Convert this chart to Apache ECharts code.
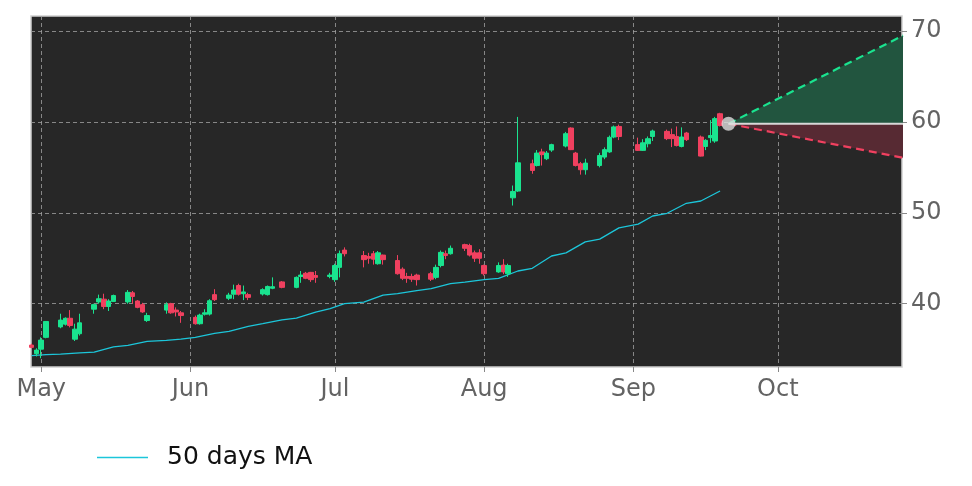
<!DOCTYPE html>
<html>
<head>
<meta charset="utf-8">
<script src="https://cdn.jsdelivr.net/npm/echarts@6/dist/echarts.min.js"></script>
<style>
html,body{margin:0;padding:0;background:#fff;}
#chart{width:972px;height:486px;}
</style>
</head>
<body>
<div id="chart"></div>
<script>
// ---- data ----
const candleDates = [
 '2025-04-29','2025-04-30','2025-05-01','2025-05-02',
 '2025-05-05','2025-05-06','2025-05-07','2025-05-08','2025-05-09',
 '2025-05-12','2025-05-13','2025-05-14','2025-05-15','2025-05-16',
 '2025-05-19','2025-05-20','2025-05-21','2025-05-22','2025-05-23',
 '2025-05-27','2025-05-28','2025-05-29','2025-05-30',
 '2025-06-02','2025-06-03','2025-06-04','2025-06-05','2025-06-06',
 '2025-06-09','2025-06-10','2025-06-11','2025-06-12','2025-06-13',
 '2025-06-16','2025-06-17','2025-06-18','2025-06-20',
 '2025-06-23','2025-06-24','2025-06-25','2025-06-26','2025-06-27',
 '2025-06-30','2025-07-01','2025-07-02','2025-07-03',
 '2025-07-07','2025-07-08','2025-07-09','2025-07-10','2025-07-11',
 '2025-07-14','2025-07-15','2025-07-16','2025-07-17','2025-07-18',
 '2025-07-21','2025-07-22','2025-07-23','2025-07-24','2025-07-25',
 '2025-07-28','2025-07-29','2025-07-30','2025-07-31','2025-08-01',
 '2025-08-04','2025-08-05','2025-08-06','2025-08-07','2025-08-08',
 '2025-08-11','2025-08-12','2025-08-13','2025-08-14','2025-08-15',
 '2025-08-18','2025-08-19','2025-08-20','2025-08-21','2025-08-22',
 '2025-08-25','2025-08-26','2025-08-27','2025-08-28','2025-08-29',
 '2025-09-02','2025-09-03','2025-09-04','2025-09-05',
 '2025-09-08','2025-09-09','2025-09-10','2025-09-11','2025-09-12',
 '2025-09-15','2025-09-16','2025-09-17','2025-09-18','2025-09-19'
];
const opens = [
 35.45,34.5,35.0,36.3,
 37.45,37.75,38.4,36.1,36.7,
 39.4,40.2,40.5,39.7,40.25,
 40.2,41.2,40.3,39.9,38.15,
 39.3,40.0,39.3,39.0,
 38.5,37.8,38.85,38.86,41.0,
 40.6,41.05,42.0,41.1,41.0,
 41.07,41.0,41.7,42.4,
 41.8,43.0,43.35,43.45,43.1,
 43.0,42.65,44.0,45.9,
 45.3,45.2,45.5,44.4,45.35,
 44.75,43.8,43.0,43.0,43.15,
 43.3,42.9,44.2,45.5,45.5,
 46.5,46.4,45.6,45.6,44.2,
 43.5,44.25,43.3,51.65,52.4,
 55.4,55.2,56.7,55.95,56.9,
 57.35,59.33,56.57,55.4,54.74,
 55.2,56.13,56.7,58.34,59.5,
 57.5,56.87,57.6,58.4,
 58.96,58.6,58.4,57.3,58.78,
 58.34,57.3,58.27,57.9,60.9
];
const closes = [
 35.2,34.9,36.0,38.05,
 38.2,38.4,37.6,37.2,37.9,
 39.9,40.55,39.7,40.3,40.9,
 41.25,40.8,39.6,39.1,38.7,
 39.9,39.0,39.1,38.7,
 37.8,38.75,39.0,40.33,40.45,
 40.95,41.5,41.05,41.3,40.7,
 41.55,41.9,41.87,41.8,
 42.9,43.15,42.8,42.65,42.9,
 43.15,44.2,45.5,45.5,
 44.85,45.0,44.9,45.6,44.85,
 43.3,42.8,42.8,42.7,42.65,
 42.7,44.0,45.65,45.3,46.1,
 46.1,45.35,45.0,45.0,43.3,
 44.2,43.5,44.2,52.35,55.5,
 54.66,56.57,56.4,56.57,57.5,
 58.7,56.95,55.2,54.74,55.47,
 56.3,56.95,58.3,59.45,58.4,
 56.87,57.7,58.15,59.0,
 58.16,58.16,57.4,58.34,58.05,
 56.24,57.97,58.5,60.36,59.6
];
const lows = [
 35.1,34.2,34.0,36.2,
 37.3,37.6,37.4,35.9,36.5,
 38.9,40.0,39.4,39.2,40.2,
 40.0,40.0,39.5,39.0,38.0,
 38.9,38.9,38.6,37.9,
 37.7,37.7,38.7,38.7,40.3,
 40.4,40.5,40.9,40.4,40.4,
 40.9,40.9,41.6,41.7,
 41.7,42.3,42.7,42.4,42.3,
 42.8,42.4,42.9,45.2,
 44.0,44.4,44.3,44.3,44.3,
 43.2,42.6,42.3,42.4,42.0,
 42.5,42.7,44.0,44.9,45.4,
 45.8,45.2,44.6,44.4,43.1,
 43.4,43.25,42.95,50.8,52.3,
 54.3,55.1,55.2,55.8,56.7,
 57.2,56.9,55.1,54.2,54.2,
 55.0,55.9,56.6,58.2,58.0,
 56.8,56.8,57.2,57.9,
 58.0,57.23,57.3,57.2,57.9,
 56.2,56.9,57.7,57.7,59.5
];
const highs = [
 35.6,35.1,36.3,38.1,
 38.9,38.5,39.3,37.8,38.9,
 40.0,41.0,41.1,40.5,41.0,
 41.5,41.4,40.4,40.1,39.0,
 40.15,40.1,39.6,39.2,
 38.7,38.9,39.4,40.5,41.6,
 41.2,42.1,42.2,42.0,41.2,
 41.7,42.0,42.9,42.5,
 43.0,43.6,43.5,43.5,43.6,
 43.4,44.4,45.85,46.2,
 45.8,45.6,45.8,45.8,45.4,
 45.35,44.0,43.4,43.3,43.3,
 43.5,44.3,45.85,45.85,46.4,
 46.6,46.6,45.85,46.0,44.3,
 44.55,44.9,44.4,53.0,60.55,
 55.85,56.9,57.05,56.8,57.6,
 58.9,59.4,56.7,55.6,55.95,
 56.6,57.2,58.5,59.6,59.7,
 58.27,58.1,58.4,59.15,
 59.15,59.26,59.5,59.4,58.9,
 58.5,58.1,60.2,60.55,61.0
];
const maDates = [
 '2025-04-29','2025-05-02','2025-05-05','2025-05-09','2025-05-12','2025-05-16',
 '2025-05-19','2025-05-23','2025-05-27','2025-05-30','2025-06-02','2025-06-06',
 '2025-06-09','2025-06-13','2025-06-16','2025-06-20','2025-06-23','2025-06-27',
 '2025-06-30','2025-07-03','2025-07-07','2025-07-11','2025-07-14','2025-07-18',
 '2025-07-21','2025-07-25','2025-07-28','2025-08-01','2025-08-04','2025-08-08',
 '2025-08-11','2025-08-15','2025-08-18','2025-08-22','2025-08-25','2025-08-29',
 '2025-09-02','2025-09-05','2025-09-08','2025-09-12','2025-09-15','2025-09-19'
];
const maValues = [
 34.3,34.4,34.45,34.6,34.68,35.25,
 35.42,35.85,35.97,36.1,36.3,36.75,
 36.95,37.5,37.8,38.22,38.42,39.08,
 39.45,40.0,40.18,40.95,41.1,41.45,
 41.65,42.2,42.37,42.64,42.78,43.6,
 43.9,45.25,45.6,46.8,47.1,48.35,
 48.75,49.65,49.95,51.05,51.3,52.4
];
const forecastDates = ['2025-09-20T18:00','2025-10-27T00:00'];
const forecastBase = [59.8, 59.8];
const forecastUp = [59.8, 69.5];
const forecastDown = [59.8, 56.05];
const monthTicks = ['2025-05-01','2025-06-01','2025-07-01','2025-08-01','2025-09-01','2025-10-01'];
const monthLabels = ['May','Jun','Jul','Aug','Sep','Oct'];
const priceTicks = [40, 50, 60, 70];

// ---- chart ----
const UP = '#1ae38f', DOWN = '#f0405f', MA = '#1cc6da';
const toT = d => new Date(d.length > 10 ? d : d + 'T00:00:00').getTime();
const tickTimes = monthTicks.map(toT);

const candleData = candleDates.map((d, i) => [toT(d), opens[i], closes[i], lows[i], highs[i]]);

const chart = echarts.init(document.getElementById('chart'), null, {renderer: 'canvas'});
const fontFam = 'DejaVu Sans';
chart.setOption({
  animation: false,
  backgroundColor: '#ffffff',
  grid: {
    left: 31, right: 70, top: 16, bottom: 119,
    show: true, backgroundColor: '#272727', borderColor: '#cfcfcf', borderWidth: 1.5
  },
  legend: {
    left: 97, top: 445, padding: 0,
    icon: 'rect', itemWidth: 51, itemHeight: 1.5, itemGap: 19,
    data: ['50 days MA'],
    textStyle: {fontFamily: fontFam, fontSize: 25, color: '#111', padding: [0, 0, 0, 14]}
  },
  xAxis: {
    type: 'value',
    min: toT('2025-04-28T21:00'),
    max: toT('2025-10-26T19:00'),
    axisLine: {show: false},
    axisTick: {show: true, customValues: tickTimes, length: 5, lineStyle: {color: '#888'}},
    axisLabel: {
      customValues: tickTimes,
      formatter: v => monthLabels[tickTimes.indexOf(v)] || '',
      fontFamily: fontFam, fontSize: 24, color: '#636363', margin: 11
    },
    splitLine: {show: true, lineStyle: {color: '#a0a0a0', type: [4, 3], width: 0.8}}
  },
  yAxis: {
    type: 'value', position: 'right',
    min: 33.04, max: 71.65,
    axisLine: {show: false},
    axisTick: {show: true, customValues: priceTicks, length: 5, lineStyle: {color: '#888'}},
    axisLabel: {customValues: priceTicks, fontFamily: fontFam, fontSize: 24, color: '#636363', margin: 9},
    splitLine: {show: true, lineStyle: {color: '#a0a0a0', type: [4, 3], width: 0.8}}
  },
  series: [
    {
      name: 'up-fill', type: 'line', silent: true,
      data: forecastDates.map((d, i) => [toT(d), forecastUp[i]]),
      symbol: 'none',
      lineStyle: {color: UP, width: 2.2, type: [8, 5]},
      areaStyle: {origin: 59.8, color: '#22553f', opacity: 1},
      z: 2
    },
    {
      name: 'down-fill', type: 'line', silent: true,
      data: forecastDates.map((d, i) => [toT(d), forecastDown[i]]),
      symbol: 'none',
      lineStyle: {color: DOWN, width: 2.2, type: [8, 5]},
      areaStyle: {origin: 59.8, color: '#572a33', opacity: 1},
      z: 2
    },
    {
      name: 'base', type: 'line', silent: true,
      data: forecastDates.map((d, i) => [toT(d), forecastBase[i]]),
      symbol: 'none',
      lineStyle: {color: '#d8d8d8', width: 2},
      z: 3
    },
    {
      name: 'price', type: 'candlestick',
      data: candleData,
      barWidth: 5,
      itemStyle: {color: UP, color0: DOWN, borderColor: UP, borderColor0: DOWN, borderWidth: 1},
      z: 4
    },
    {
      name: '50 days MA', type: 'line',
      data: maDates.map((d, i) => [toT(d), maValues[i]]),
      symbol: 'none', color: MA,
      lineStyle: {color: MA, width: 1.3},
      z: 4
    },
    {
      name: 'last', type: 'scatter', silent: true,
      data: [[toT(forecastDates[0]), forecastBase[0]]],
      symbolSize: 14,
      itemStyle: {color: '#dedede'},
      z: 5
    }
  ]
});
</script>
</body>
</html>
